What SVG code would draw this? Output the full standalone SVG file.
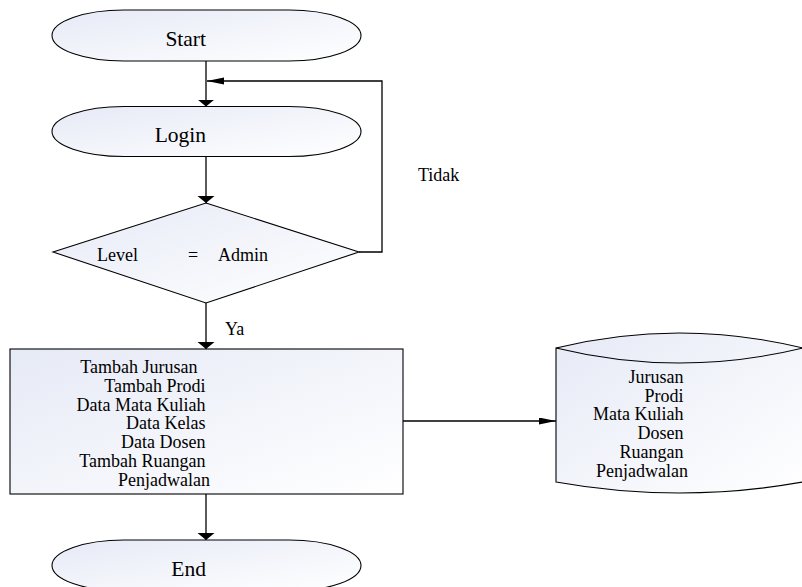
<svg xmlns="http://www.w3.org/2000/svg" width="802" height="587" viewBox="0 0 802 587">
  <defs>
    <linearGradient id="fillGrad" x1="0" y1="0" x2="1" y2="1">
      <stop offset="0" stop-color="#e6eaf6"/>
      <stop offset="1" stop-color="#ffffff"/>
    </linearGradient>
    <!-- arrowhead for vertical connectors: short and wide -->
    <marker id="arrowV" markerUnits="userSpaceOnUse" markerWidth="8" markerHeight="18" refX="7" refY="8.5" orient="auto">
      <path d="M0,0 L7,8.5 L0,17 Z" fill="#000"/>
    </marker>
    <!-- arrowhead for horizontal connectors: long and narrow -->
    <marker id="arrowH" markerUnits="userSpaceOnUse" markerWidth="18" markerHeight="8" refX="17" refY="3.5" orient="auto">
      <path d="M0,0 L17,3.5 L0,7 Z" fill="#000"/>
    </marker>
  </defs>
  <style>
    .shape { fill: url(#fillGrad); stroke: #000; stroke-width: 1.1; }
    .conn { fill: none; stroke: #000; stroke-width: 1.3; }
    .t { font-family: "Liberation Serif", "Times New Roman", serif; fill: #000; }
    .big { font-size: 21.5px; }
    .med { font-size: 18px; }
  </style>

  <rect width="802" height="587" fill="#ffffff"/>

  <g id="connectors">
    <line class="conn" x1="206" y1="61" x2="206" y2="106.5" marker-end="url(#arrowV)"/>
    <line class="conn" x1="206" y1="156" x2="206" y2="203" marker-end="url(#arrowV)"/>
    <polyline class="conn" points="359,252 382,252 382,81 207,81" marker-end="url(#arrowH)"/>
    <line class="conn" x1="206" y1="303" x2="206" y2="349" marker-end="url(#arrowV)"/>
    <line class="conn" x1="403" y1="421" x2="556" y2="421" marker-end="url(#arrowH)"/>
    <line class="conn" x1="206" y1="494" x2="206" y2="540" marker-end="url(#arrowV)"/>
  </g>

  <g id="start">
    <path class="shape" d="M124,10 H289 A72,25.5 0 0 1 289,61 H124 A72,25.5 0 0 1 124,10 Z"/>
    <text class="t big" x="206" y="45.5" text-anchor="end">Start</text>
  </g>

  <g id="login">
    <path class="shape" d="M124,106.5 H289 A72,25 0 0 1 289,156.5 H124 A72,25 0 0 1 124,106.5 Z"/>
    <text class="t big" x="206" y="141.5" text-anchor="end">Login</text>
  </g>

  <g id="decision">
    <polygon class="shape" points="206,203 359,252 206,303 53,252"/>
    <text class="t med" x="97" y="260.5">Level</text>
    <text class="t med" x="188" y="260.5">=</text>
    <text class="t med" x="218" y="260.5">Admin</text>
  </g>

  <g id="label-tidak">
    <text class="t med" x="418" y="181">Tidak</text>
  </g>
  <g id="label-ya">
    <text class="t med" x="225" y="335">Ya</text>
  </g>

  <g id="process">
    <rect class="shape" x="10" y="349" width="393" height="145"/>
    <text class="t med" text-anchor="end">
      <tspan x="202" y="372.7">Tambah Jurusan</tspan>
      <tspan x="210" y="391.8">Tambah Prodi</tspan>
      <tspan x="210" y="410.6">Data Mata Kuliah</tspan>
      <tspan x="210" y="429.4">Data Kelas</tspan>
      <tspan x="210" y="448.2">Data Dosen</tspan>
      <tspan x="210" y="467">Tambah Ruangan</tspan>
      <tspan x="210" y="485.8">Penjadwalan</tspan>
    </text>
  </g>

  <g id="database">
    <path class="shape" d="M556,348 Q679,318 803,348 V482 Q679,504 556,482 Z"/>
    <path class="conn" style="stroke-width:1.1" d="M556,348 Q679,378 803,348"/>
    <text class="t med" text-anchor="end">
      <tspan x="688" y="382.7">Jurusan</tspan>
      <tspan x="688" y="401.5">Prodi</tspan>
      <tspan x="688" y="420.3">Mata Kuliah</tspan>
      <tspan x="688" y="439.1">Dosen</tspan>
      <tspan x="688" y="457.9">Ruangan</tspan>
      <tspan x="688" y="476.7">Penjadwalan</tspan>
    </text>
  </g>

  <g id="end">
    <path class="shape" d="M124,540 H289 A72,25.5 0 0 1 289,591 H124 A72,25.5 0 0 1 124,540 Z"/>
    <text class="t big" x="206" y="575.5" text-anchor="end">End</text>
  </g>
</svg>
